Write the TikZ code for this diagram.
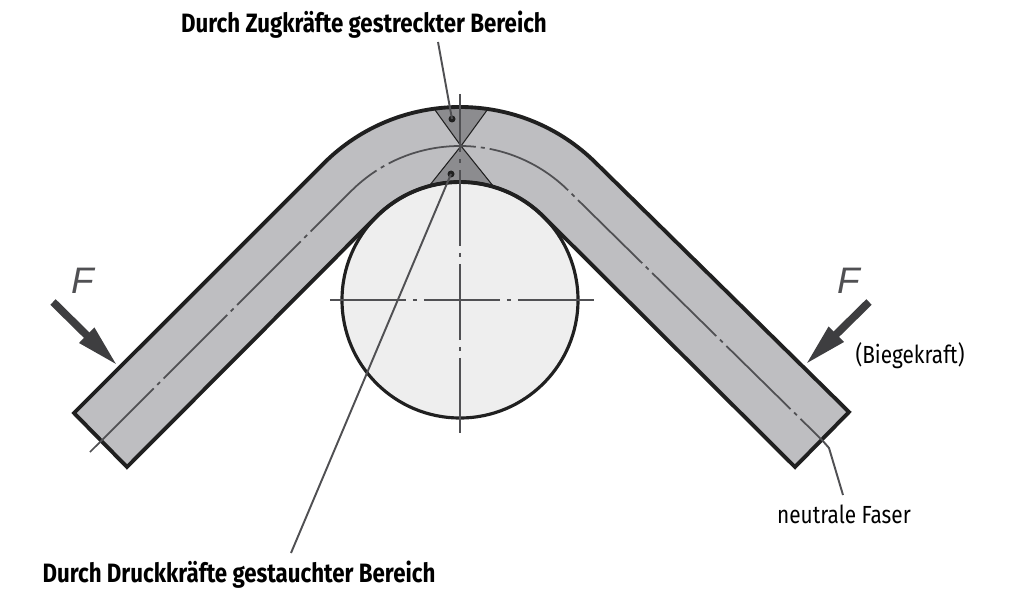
\documentclass[tikz,border=0pt]{standalone}
\usepackage{fontspec}
\setsansfont[FakeStretch=0.84]{Fira Sans}
\newfontfamily\forcefont{Liberation Sans}
\usetikzlibrary{arrows.meta,positioning,calc}
\definecolor{BarGray}{RGB}{190,190,193}
\definecolor{ZoneGray}{RGB}{140,140,143}
\definecolor{RollGray}{RGB}{238,238,238}
\definecolor{EdgeDark}{RGB}{32,32,32}
\definecolor{AxisGray}{RGB}{80,80,83}
\definecolor{ArrowDark}{RGB}{62,62,64}
\tikzset{
  outline/.style={draw=EdgeDark,line width=2.2pt,line join=miter},
  fibreline/.style={AxisGray,line width=1pt,dash pattern=on 1.8cm off .1cm on .08cm off .1cm},
  axisline/.style={AxisGray,line width=1.2pt,dash pattern=on 1.52cm off .14cm on .08cm off .14cm},
  leader/.style={AxisGray,line width=1.1pt},
  force/.style={ArrowDark,line width=4.4pt,-{Triangle[length=25pt,width=11pt]}},
  forcelabel/.style={AxisGray,font=\forcefont\itshape\fontsize{21}{21}\selectfont},
  caption/.style={font=\sffamily\fontsize{14.1}{17}\selectfont,text=black},
  captionbold/.style={font=\sffamily\bfseries\fontsize{15.1}{18}\selectfont,text=black}
}
\begin{document}
\begin{tikzpicture}[>=Latex,x=.02cm,y=.02cm]
  \useasboundingbox (0,0) rectangle (1011,589);
  \coordinate (bendc) at (460,289);
  \coordinate (endla) at (74,176);
  \coordinate (endlb) at (127,122);
  \coordinate (endra) at (849,177);
  \coordinate (endrb) at (795,122);
  % bar and roller
  \fill[BarGray] (endla) -- ([shift={(135:193)}]bendc) arc[start angle=135,end angle=45,radius=193]
    -- (endra) -- (endrb) -- ([shift={(45:118)}]bendc) arc[start angle=45,end angle=135,radius=118]
    -- (endlb) -- cycle;
  \coordinate (apex) at (461,443);
  \fill[ZoneGray] (apex) -- ([shift={(97.7:193)}]bendc) arc[start angle=97.7,end angle=81.7,radius=193] -- cycle;
  \fill[ZoneGray] (apex) -- ([shift={(105.2:118)}]bendc) arc[start angle=105.2,end angle=73.3,radius=118] -- cycle;
  \draw[EdgeDark,line width=.6pt] ([shift={(97.7:193)}]bendc) -- (apex) -- ([shift={(81.7:193)}]bendc);
  \draw[EdgeDark,line width=.6pt] ([shift={(105.2:118)}]bendc) -- (apex) -- ([shift={(73.3:118)}]bendc);
  \draw[outline,line width=1.8pt,fill=RollGray] (bendc) circle (118);
  \draw[outline] (endla) -- ([shift={(135:193)}]bendc) arc[start angle=135,end angle=45,radius=193]
    -- (endra) -- (endrb) -- ([shift={(45:118)}]bendc) arc[start angle=45,end angle=135,radius=118]
    -- (endlb) -- cycle;
  % centre lines
  \draw[fibreline] (90,137) -- ([shift={(135:154)}]bendc) arc[start angle=135,end angle=45,radius=154] -- (822,149);
  \draw[axisline,dash phase=.36cm] (460,495) -- (460,156);
  \draw[axisline] (330,289) -- (594,289);
  % labels and leaders
  \node[captionbold,anchor=base] (zugtext) at (364,556) {Durch Zugkräfte gestreckter Bereich};
  \node[captionbold,anchor=base] (drucktext) at (239,7) {Durch Druckkräfte gestauchter Bereich};
  \node[caption,anchor=base] (kraft) at (910,226) {(Biegekraft)};
  \node[caption,anchor=base] (faser) at (844,66) {neutrale Faser};
  \fill[EdgeDark] (452,470) circle (3.5) coordinate (zugdot);
  \fill[EdgeDark] (451,415) circle (3.5) coordinate (druckdot);
  \coordinate (zugend) at (438,547);
  \coordinate (druckend) at (291,36);
  \draw[leader] (zugend) -- (zugdot);
  \draw[leader] (druckend) -- (druckdot);
  \coordinate (fasera) at (822,149);
  \coordinate (faserb) at (829,141);
  \coordinate (faserc) at (843,94);
  \draw[leader] (fasera) -- (faserb) -- (faserc);
  % forces
  \coordinate (forcela) at (53,287);
  \coordinate (forcelb) at (118,223);
  \coordinate (forcera) at (869,287);
  \coordinate (forcerb) at (805,224);
  \draw[force] (forcela) -- (forcelb);
  \draw[force] (forcera) -- (forcerb);
  \node[forcelabel] (fleft) at (83,308) {F};
  \node[forcelabel] (fright) at (849,308) {F};
\end{tikzpicture}
\end{document}
